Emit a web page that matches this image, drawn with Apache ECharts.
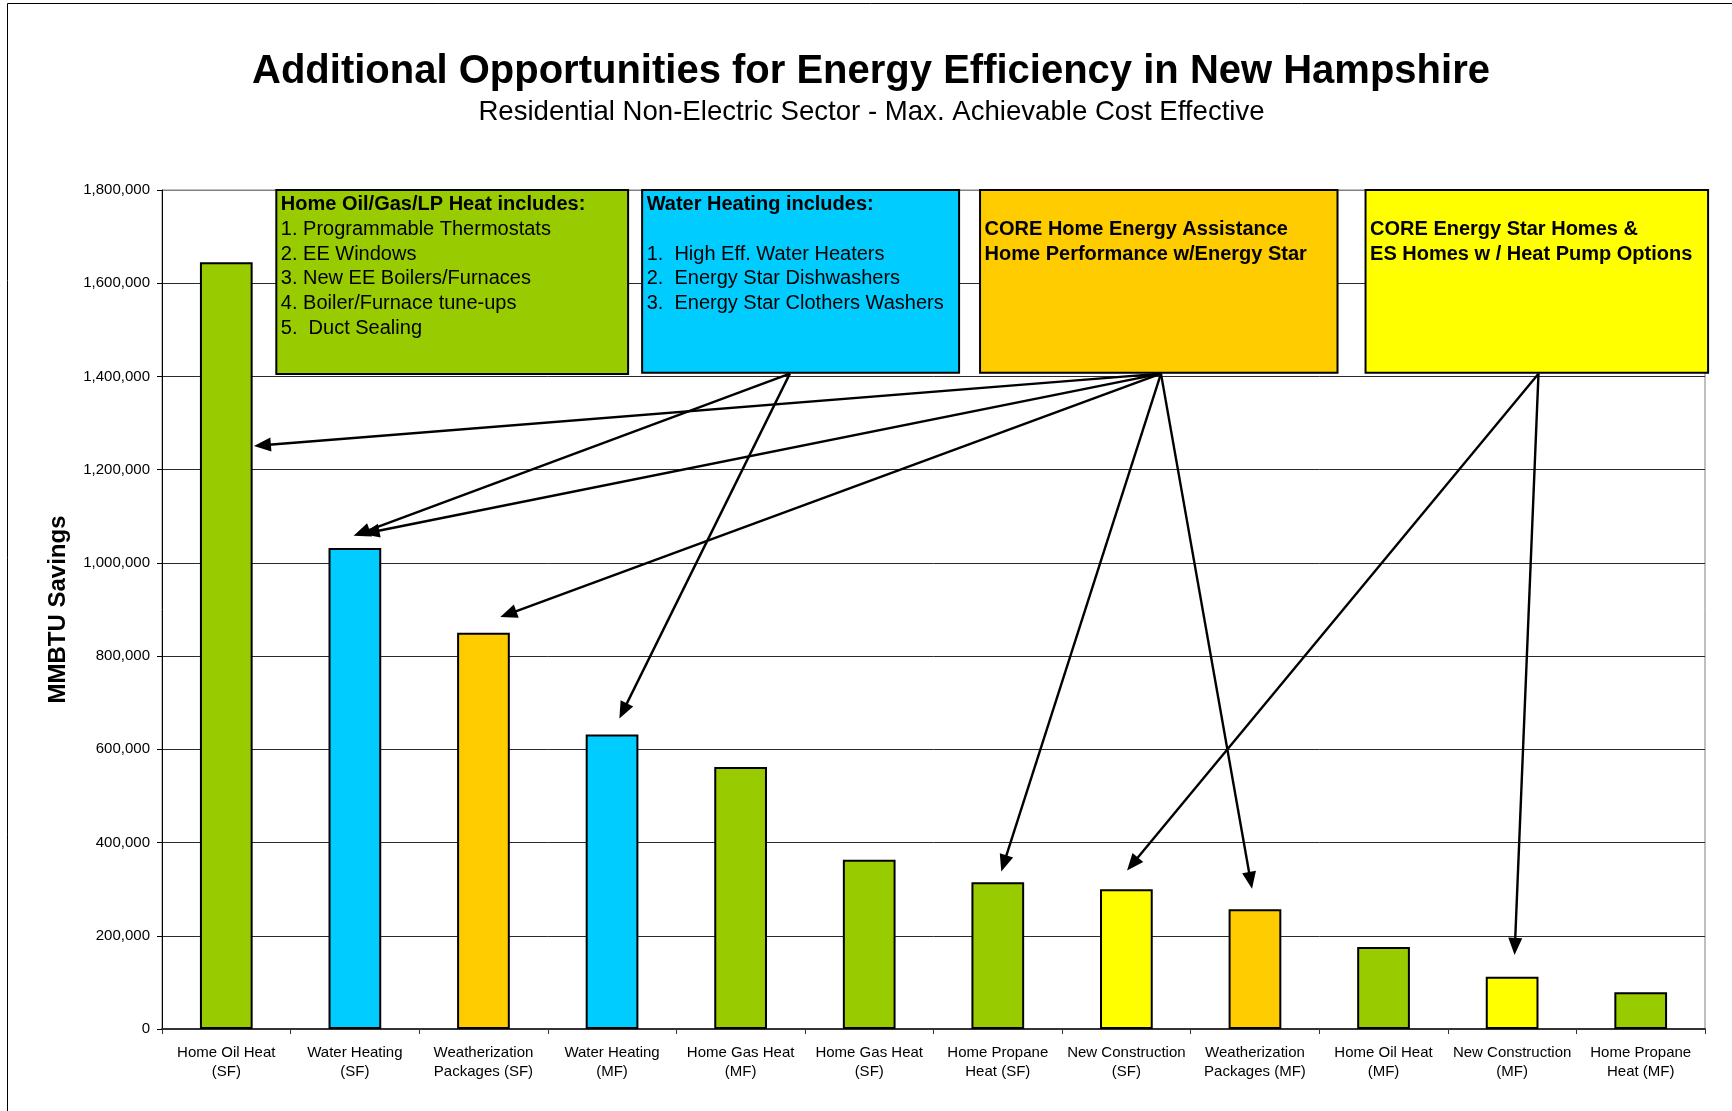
<!DOCTYPE html>
<html>
<head>
<meta charset="utf-8">
<script src="https://cdn.jsdelivr.net/npm/echarts@6/dist/echarts.min.js"></script>
<style>
  html, body { margin: 0; padding: 0; background: #fff; }
  #chart { width: 1732px; height: 1111px; }
</style>
</head>
<body>
<div id="chart"></div>
<script>
// ---------- data ----------
const categories = [
  'Home Oil Heat\n(SF)', 'Water Heating\n(SF)', 'Weatherization\nPackages (SF)',
  'Water Heating\n(MF)', 'Home Gas Heat\n(MF)', 'Home Gas Heat\n(SF)',
  'Home Propane\nHeat (SF)', 'New Construction\n(SF)', 'Weatherization\nPackages (MF)',
  'Home Oil Heat\n(MF)', 'New Construction\n(MF)', 'Home Propane\nHeat (MF)'
];
const savings = [1645000, 1032000, 850000, 632000, 562000, 363000, 315000, 300000, 257000, 176000, 112000, 79000];
const programGroup = ['heat', 'water', 'wx', 'water', 'heat', 'heat', 'heat', 'newc', 'wx', 'heat', 'newc', 'heat'];

const titleText = 'Additional Opportunities for Energy Efficiency in New Hampshire';
const subtitleText = 'Residential Non-Electric Sector - Max. Achievable Cost Effective';
const yAxisTitle = 'MMBTU Savings';

const boxGroups = ['heat', 'water', 'wx', 'newc'];
const boxLines = [
  ['Home Oil/Gas/LP Heat includes:', '1. Programmable Thermostats', '2. EE Windows', '3. New EE Boilers/Furnaces', '4. Boiler/Furnace tune-ups', '5.  Duct Sealing'],
  ['Water Heating includes:', '', '1.  High Eff. Water Heaters', '2.  Energy Star Dishwashers', '3.  Energy Star Clothers Washers'],
  ['', 'CORE Home Energy Assistance', 'Home Performance w/Energy Star'],
  ['', 'CORE Energy Star Homes &', 'ES Homes w / Heat Pump Options']
];
const boxBoldLines = [1, 1, 3, 3];

// ---------- annotation layout (category units on x, MMBTU on y) ----------
const boxExtents = [
  [0.389, 3.125, 1405000, 1800000],
  [3.234, 5.699, 1408000, 1800000],
  [5.862, 8.642, 1408000, 1800000],
  [8.860, 11.524, 1408000, 1800000]
];
const boxArrowOrigin = [null, [4.383, 1406000], [7.269, 1406000], [10.205, 1406000]];
const arrowTargets = [
  [2, 0.215, 1251000],
  [1, 0.99, 1058000],
  [2, 1.06, 1062000],
  [2, 2.131, 884000],
  [1, 3.057, 666000],
  [2, 6.027, 338000],
  [3, 7.005, 340000],
  [2, 7.977, 301000],
  [3, 10.019, 159000]
];

// ---------- styles ----------
const groupColors = { heat: '#99CC00', water: '#00CCFF', wx: '#FFCC00', newc: '#FFFF00' };
const FONT = '"Liberation Sans", Arial, sans-serif';

const chart = echarts.init(document.getElementById('chart'), null, { renderer: 'canvas' });

const boxData = boxExtents.map(b => b.slice());
const arrowData = arrowTargets.map(a => {
  const o = boxArrowOrigin[a[0]];
  return [o[0], o[1], a[1], a[2]];
});

const splitColors = [];
for (let i = 0; i < 9; i++) splitColors.push('#2a2a2a');
splitColors.push('#808080');

const option = {
  backgroundColor: '#ffffff',
  animation: false,
  graphic: [
    { type: 'rect', shape: { x: 7.5, y: 3.5, width: 1800, height: 1200 }, style: { fill: 'none', stroke: '#000', lineWidth: 1 }, silent: true, z: -10 },
    { type: 'text', x: 871, y: 72, style: { text: titleText, fontFamily: FONT, fontWeight: 'bold', fontSize: 40, fill: '#000', align: 'center', verticalAlign: 'middle' } },
    { type: 'text', x: 871.5, y: 112.5, style: { text: subtitleText, fontFamily: FONT, fontSize: 27.6, fill: '#000', align: 'center', verticalAlign: 'middle' } }
  ],
  grid: {
    left: 162, right: 27, top: 190, bottom: 82,
    show: true, borderColor: '#808080', borderWidth: 1, backgroundColor: 'transparent',
    outerBoundsMode: 'none'
  },
  xAxis: [
    {
      type: 'category',
      data: categories,
      boundaryGap: true,
      axisLine: { show: true, onZero: false, lineStyle: { color: '#333', width: 2 } },
      axisTick: { show: true, alignWithLabel: false, inside: false, length: 5, lineStyle: { color: '#333', width: 1 } },
      axisLabel: { interval: 0, margin: 14, fontFamily: FONT, fontSize: 15, lineHeight: 19, color: '#000' },
      splitLine: { show: false }
    },
    {
      type: 'value', min: -0.5, max: 11.5, show: false,
      axisLine: { show: false, onZero: false }, axisTick: { show: false }, axisLabel: { show: false }, splitLine: { show: false }
    }
  ],
  yAxis: [{
    type: 'value',
    min: 0, max: 1800000, interval: 200000,
    name: yAxisTitle,
    nameLocation: 'middle',
    nameRotate: 90,
    nameGap: 92,
    nameTextStyle: { fontFamily: FONT, fontWeight: 'bold', fontSize: 24, color: '#000' },
    axisLine: { show: true, onZero: false, lineStyle: { color: '#000', width: 1 } },
    axisTick: { show: true, inside: false, length: 5, lineStyle: { color: '#000', width: 1 } },
    axisLabel: {
      margin: 12, fontFamily: FONT, fontSize: 15, color: '#000',
      formatter: v => v.toLocaleString('en-US')
    },
    splitLine: { show: true, lineStyle: { color: splitColors, width: 1 } }
  }],
  series: [
    {
      type: 'bar',
      xAxisIndex: 0, yAxisIndex: 0,
      barCategoryGap: '59%',
      data: savings.map((v, i) => ({ value: v, itemStyle: { color: groupColors[programGroup[i]] } })),
      itemStyle: { borderColor: '#000', borderWidth: 2 },
      emphasis: { disabled: true },
      z: 2
    },
    {
      type: 'custom',
      xAxisIndex: 1, yAxisIndex: 0,
      clip: false,
      z: 3,
      encode: { x: [0, 1], y: [2, 3] },
      data: boxData,
      renderItem: function (params, api) {
        const i = params.dataIndex;
        const tl = api.coord([api.value(0), api.value(3)]);
        const br = api.coord([api.value(1), api.value(2)]);
        const children = [{
          type: 'rect',
          shape: { x: tl[0], y: tl[1], width: br[0] - tl[0], height: br[1] - tl[1] },
          style: { fill: groupColors[boxGroups[i]], stroke: '#000', lineWidth: 2 }
        }];
        boxLines[i].forEach((t, k) => {
          if (!t) return;
          children.push({
            type: 'text',
            x: tl[0] + 4.5,
            y: tl[1] + 14.5 + k * 24.8,
            style: {
              text: t, fontFamily: FONT, fontSize: 20,
              fontWeight: k < boxBoldLines[i] ? 'bold' : 'normal',
              fill: '#000', align: 'left', verticalAlign: 'middle'
            }
          });
        });
        return { type: 'group', children: children };
      }
    },
    {
      type: 'custom',
      xAxisIndex: 1, yAxisIndex: 0,
      clip: false,
      z: 4,
      encode: { x: [0, 2], y: [1, 3] },
      data: arrowData,
      renderItem: function (params, api) {
        const p0 = api.coord([api.value(0), api.value(1)]);
        const p1 = api.coord([api.value(2), api.value(3)]);
        const dx = p1[0] - p0[0], dy = p1[1] - p0[1];
        const len = Math.sqrt(dx * dx + dy * dy);
        const ux = dx / len, uy = dy / len;
        const headLen = 17, headHalf = 7;
        const bx = p1[0] - ux * headLen, by = p1[1] - uy * headLen;
        const nx = -uy, ny = ux;
        return {
          type: 'group',
          children: [
            { type: 'line', shape: { x1: p0[0], y1: p0[1], x2: bx + ux * 2, y2: by + uy * 2 }, style: { stroke: '#000', lineWidth: 2.4 } },
            { type: 'polygon', shape: { points: [[p1[0], p1[1]], [bx + nx * headHalf, by + ny * headHalf], [bx - nx * headHalf, by - ny * headHalf]] }, style: { fill: '#000' } }
          ]
        };
      }
    }
  ]
};

chart.setOption(option);
</script>
</body>
</html>
